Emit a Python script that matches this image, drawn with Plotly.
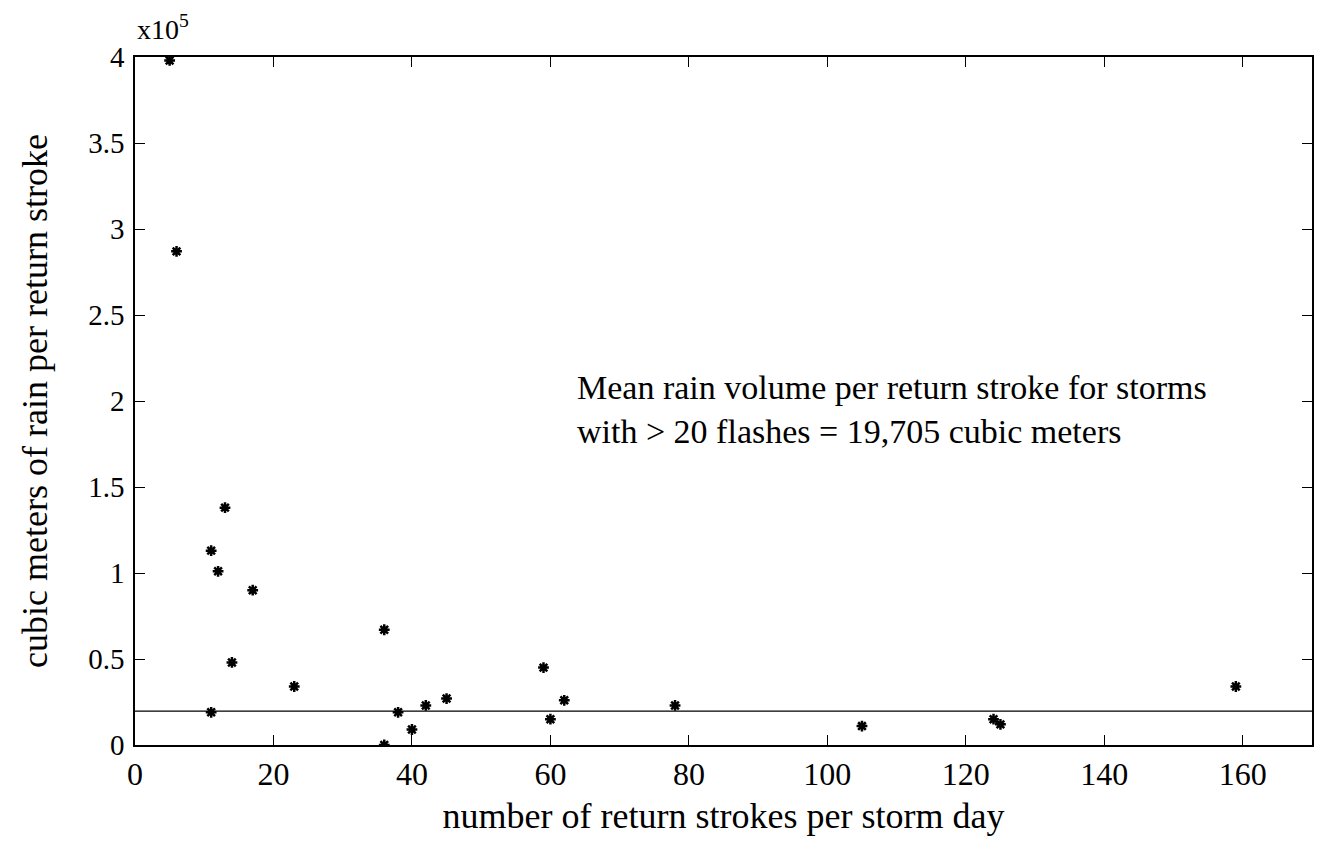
import plotly.graph_objects as go

# Data (x: return strokes per storm day, y: cubic meters per return stroke)
strokes = [5, 6, 11, 11, 12, 13, 14, 17, 23, 36, 36, 38, 40, 42, 45, 59, 60, 62, 78, 105, 124, 125, 159]
rain_per_stroke = [398000, 287000, 113000, 19000, 101000, 138000, 48000, 90000, 34000, 67000, 0,
                   19000, 9000, 23000, 27000, 45000, 15000, 26000, 23000, 11000, 15000, 12000, 34000]
mean_volume = 19705

x_ticks = [0, 20, 40, 60, 80, 100, 120, 140, 160]
y_tick_vals = [0, 50000, 100000, 150000, 200000, 250000, 300000, 350000, 400000]
y_tick_text = ["0", "0.5", "1", "1.5", "2", "2.5", "3", "3.5", "4"]

FONT = "Liberation Serif, Times New Roman, serif"

fig = go.Figure()
fig.add_trace(go.Scatter(
    x=[0, 170], y=[mean_volume, mean_volume], mode="lines",
    line=dict(color="black", width=1.2), showlegend=False, hoverinfo="skip"))
fig.add_trace(go.Scatter(
    x=strokes, y=rain_per_stroke, mode="markers",
    marker=dict(symbol="asterisk", size=9, color="black",
                line=dict(color="black", width=2.5)),
    showlegend=False))

fig.update_layout(
    width=1322, height=854,
    margin=dict(l=127, r=18, t=49, b=117),
    paper_bgcolor="white", plot_bgcolor="white",
    font=dict(family=FONT, size=30, color="black"),
    xaxis=dict(range=[0, 170], tickvals=x_ticks, ticks="inside", ticklen=10,
               tickcolor="black", showline=True, linecolor="black", linewidth=1.5,
               mirror="ticks", showgrid=False, zeroline=False,
               title=dict(text="number of return strokes per storm day", standoff=12,
                          font=dict(size=36, family=FONT)),
               tickfont=dict(size=32, family=FONT)),
    yaxis=dict(range=[0, 400000], tickvals=y_tick_vals, ticktext=y_tick_text,
               ticks="inside", ticklen=10, tickcolor="black", showline=True,
               linecolor="black", linewidth=1.5, mirror="ticks", showgrid=False,
               zeroline=False, ticklabelstandoff=3,
               title=dict(text="cubic meters of rain per return stroke", standoff=30,
                          font=dict(size=36, family=FONT)),
               tickfont=dict(size=29, family=FONT)),
    annotations=[
        dict(x=0, y=1.0, xref="paper", yref="paper", xanchor="left", yanchor="bottom",
             yshift=10, text="x10<sup>5</sup>", showarrow=False, font=dict(size=28)),
        dict(x=63.5, y=195000, xref="x", yref="y", xanchor="left", yanchor="middle",
             align="left",
             text="Mean rain volume per return stroke for storms<br>with &gt; 20 flashes = 19,705 cubic meters",
             showarrow=False, font=dict(size=34)),
    ],
)

fig.write_html("out.html")
